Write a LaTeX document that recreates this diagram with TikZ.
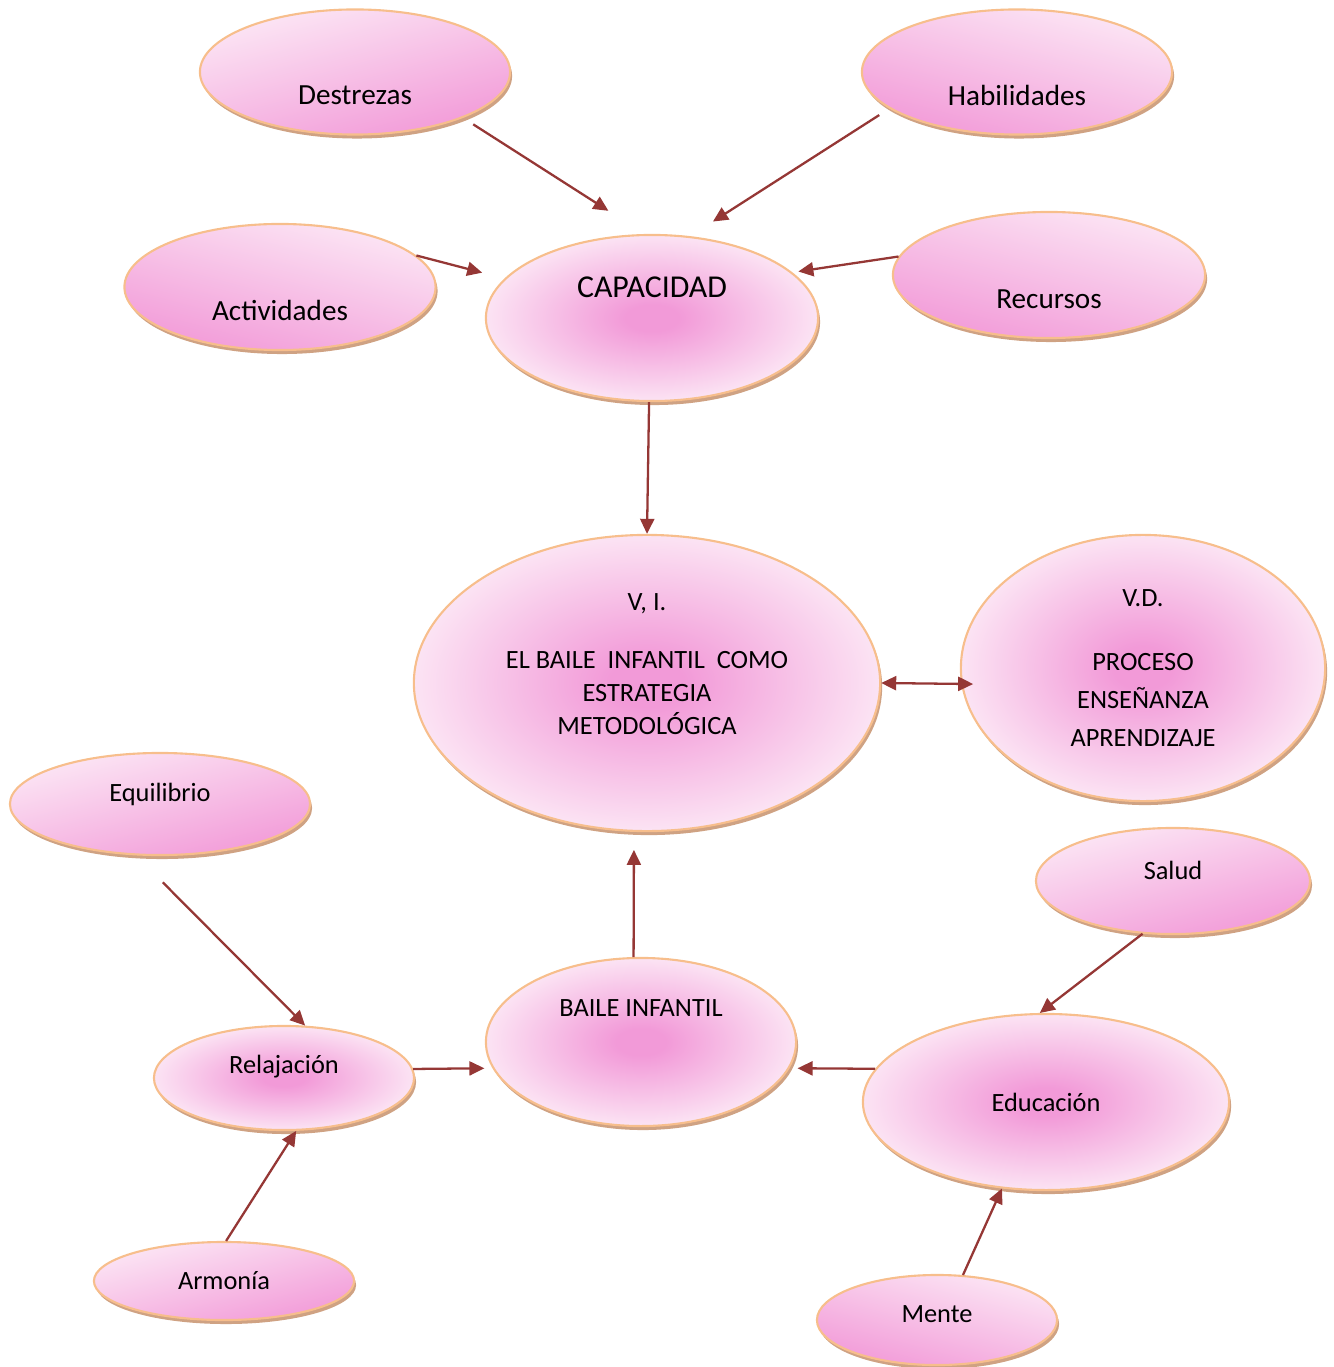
\documentclass[tikz,border=0pt]{standalone}
\usepackage{fontspec}
\setmainfont{Carlito}
\usetikzlibrary{arrows.meta,shapes.geometric,shadows}

\definecolor{peach}{HTML}{F7BE8C}
\definecolor{tanshade}{HTML}{CFA283}
\definecolor{palepink}{HTML}{FCE7F5}
\definecolor{rosepink}{HTML}{F29AD8}
\definecolor{arrowred}{HTML}{953735}

\pgfdeclareradialshading{pinkglow}{\pgfpointorigin}{color(0bp)=(rosepink); color(4bp)=(rosepink); color(26bp)=(palepink); color(50bp)=(palepink)}

\tikzset{
	x=0.01cm,
	y=-0.01cm,
	>={Triangle[length=0.15cm,width=0.14cm]},
	bubble/.style={
		ellipse,
		draw=peach,
		line width=0.6pt,
		inner sep=0pt,
		general shadow={fill=tanshade, shadow xshift=0.02cm, shadow yshift=-0.04cm}
	},
	glow/.style={shading=pinkglow},
	fade se/.style={top color=palepink, bottom color=rosepink, shading angle=15},
	fade sw/.style={top color=palepink, bottom color=rosepink, shading angle=-15},
	link/.style={->, draw=arrowred, line width=0.65pt},
	big text/.style={font=\fontsize{8.3}{10}\selectfont},
	small text/.style={font=\fontsize{7.5}{9.4}\selectfont}
}

\begin{document}
\begin{tikzpicture}
  \useasboundingbox (0,0) rectangle (1333,1367);

  % top row
  \node [bubble, fade se, minimum width=3.1cm, minimum height=1.25cm] (destrezas)
    [label={[big text, yshift=-0.23cm]center:Destrezas}] at (355,72) {};
  \node [bubble, fade sw, minimum width=3.1cm, minimum height=1.25cm] (habilidades)
    [label={[big text, yshift=-0.23cm]center:Habilidades}] at (1017,72) {};
  \node [bubble, fade sw, minimum width=3.11cm, minimum height=1.26cm] (actividades)
    [label={[big text, yshift=-0.23cm]center:Actividades}] at (280,287) {};
  \node [bubble, fade sw, minimum width=3.12cm, minimum height=1.26cm] (recursos)
    [label={[big text, yshift=-0.24cm]center:Recursos}] at (1049,275) {};
  \node [bubble, glow, minimum width=3.32cm, minimum height=1.66cm] (capacidad)
    [label={[font=\fontsize{9.06}{11}\selectfont, yshift=0.31cm]center:CAPACIDAD}] at (652,318) {};

  % middle
  \node [bubble, glow, minimum width=4.66cm, minimum height=2.96cm] (vi)
    [label={[small text, align=center, yshift=0.19cm]center:{V, I.\\[0.25cm]EL BAILE\ \ INFANTIL\ \ COMO\\ESTRATEGIA\\METODOLÓGICA}}] at (647,683) {};
  \node [bubble, glow, minimum width=3.64cm, minimum height=2.66cm] (vd)
    [label={[font=\fontsize{7.5}{10.7}\selectfont, align=center]center:{V.D.\\[0.265cm]PROCESO\\ENSEÑANZA\\APRENDIZAJE}}] at (1143,668) {};

  % bottom
  \node [bubble, fade se, minimum width=3.0cm, minimum height=1.02cm] (equilibrio)
    [label={[small text, yshift=0.10cm]center:Equilibrio}] at (160,804) {};
  \node [bubble, fade se, minimum width=2.74cm, minimum height=1.06cm] (salud)
    [label={[small text, yshift=0.11cm]center:Salud}] at (1173,881) {};
  \node [bubble, glow, minimum width=3.1cm, minimum height=1.68cm] (baile)
    [label={[small text, yshift=0.34cm]center:BAILE INFANTIL}] at (641,1042) {};
  \node [bubble, glow, minimum width=2.6cm, minimum height=1.04cm] (relajacion)
    [label={[small text, yshift=0.11cm]center:Relajación}] at (284,1078) {};
  \node [bubble, glow, minimum width=3.66cm, minimum height=1.76cm] (educacion)
    [label={[small text]center:Educación}] at (1046,1102) {};
  \node [bubble, fade se, minimum width=2.6cm, minimum height=0.78cm] (armonia)
    [label={[small text]center:Armonía}] at (224,1281) {};
  \node [bubble, fade sw, minimum width=2.4cm, minimum height=0.9cm] (mente)
    [label={[small text, yshift=0.06cm]center:Mente}] at (937,1320) {};

  % connectors
  \draw [link, shorten <=0.12cm, shorten >=0.43cm] (destrezas.-23) -- (capacidad.95);
  \draw [link, shorten <=0.12cm, shorten >=0.27cm] (habilidades.-164) -- (capacidad.65);
  \draw [link, shorten >=0.23cm] (actividades.13) -- (capacidad.165);
  \draw [link, shorten >=0.06cm] (recursos.173) -- (capacidad.18);
  \draw [link] (capacidad.-92) -- (vi.90);
  \draw [link, <->, shorten >=-0.12cm] (vi.0) -- (vd.185);
  \draw [link, shorten >=0.18cm] (baile.95) -- (vi.-95);
  \draw [link, shorten <=0.38cm] (equilibrio.-115) -- (relajacion.68);
  \draw [link] (armonia.87) -- (relajacion.-77);
  \draw [link, shorten >=0.08cm] (relajacion.4) -- (baile.190);
  \draw [link, shorten >=0.08cm] (educacion.169) -- (baile.-10);
  \draw [link] (salud.-120) -- (educacion.94);
  \draw [link] (mente.60) -- (educacion.-117);
\end{tikzpicture}
\end{document}
